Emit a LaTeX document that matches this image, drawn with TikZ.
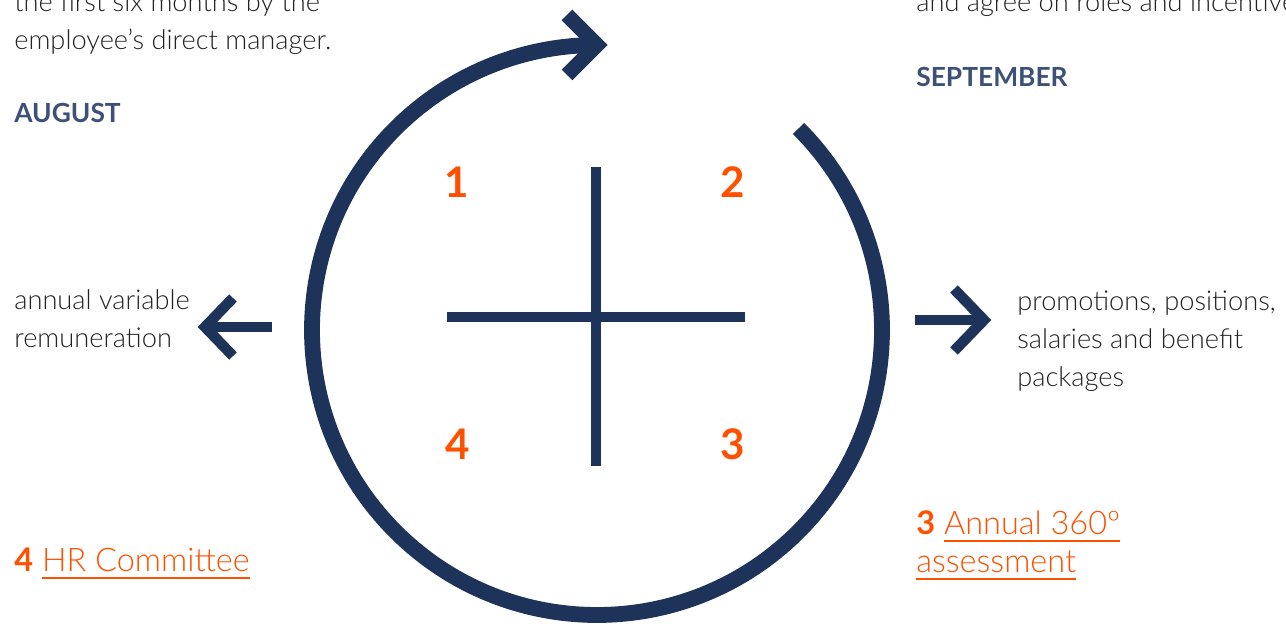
\documentclass[tikz,border=0pt]{standalone}
\usepackage{fontspec}
\setmainfont{Lato}[UprightFont=* Light, BoldFont=* Bold]
\usepackage{tikz}
\usetikzlibrary{positioning}

\definecolor{navy}{HTML}{1E3359}
\definecolor{flame}{HTML}{FF5000}
\definecolor{slate}{HTML}{3D5078}
\definecolor{ink}{HTML}{222222}

\newsavebox\ulbox
\newcommand\ulined[1]{\sbox\ulbox{#1}\rlap{\rule[-4pt]{\wd\ulbox}{1pt}}\usebox\ulbox}

\tikzset{
  body/.style={font=\fontsize{15.5}{21.7}\selectfont, text=ink, align=left,
    anchor=base west, inner sep=0pt},
  month/.style={font=\fontsize{15}{17}\selectfont\bfseries, text=slate,
    anchor=base west, inner sep=0pt},
  quad/.style={font=\fontsize{24}{28}\selectfont\bfseries, text=flame,
    anchor=base, inner sep=0pt},
  linkbox/.style={font=\fontsize{18.5}{21.7}\selectfont, text=flame, align=left,
    anchor=base west, inner sep=0pt},
  ring/.style={draw=navy, line width=9pt},
  bar/.style={draw=navy, line width=5.7pt},
  pointer/.style={draw=navy, line width=6pt, miter limit=10},
}

\begin{document}
\begin{tikzpicture}[x=0.02cm, y=-0.02cm]
  \useasboundingbox (0,0) rectangle (1286,624);

  % cycle ring with its head
  \coordinate (c) at (597,330);
  \draw[ring] (c) ++(-45:285) arc[start angle=-45, end angle=270, radius=285]
    coordinate (top);
  \draw[pointer, line width=8.5pt] (top) ++(-30,-30) -- (top) -- ++(-30,30);

  % quadrant cross
  \coordinate (xw) at (447,317);
  \coordinate (xe) at (745,317);
  \coordinate (xn) at (596,167);
  \coordinate (xs) at (596,466);
  \draw[bar] (xw) -- (xe);
  \draw[bar] (xn) -- (xs);

  \node[quad] (q1) at (457,198) {1};
  \node[quad] (q2) at (733,198) {2};
  \node[quad] (q3) at (733,460) {3};
  \node[quad] (q4) at (458,460) {4};

  % left side (base = last line)
  \node[body] (prev) at (14,50) {the first six months by the\\employee’s direct manager.};
  \node[month] (aug) at (14,123) {AUGUST};
  \node[body] (bonus) at (14,348) {annual variable\\remuneration};
  \node[linkbox] (hr) at (14,572) {\textbf{4} \ulined{HR Committee}};

  % right side
  \node[body] (roles) at (916,12) {and agree on roles and incentives.};
  \node[month] (sep) at (916,87) {SEPTEMBER};
  \node[body] (promo) at (1017,387) {promotions, positions,\\salaries and benefit\\packages};
  \node[linkbox] (eval) at (916,573) {\textbf{3} \ulined{Annual 360º}\\\ulined{assessment}};

  % pointers
  \coordinate (ls) at (272,327);
  \coordinate (lt) at (205,327);
  \draw[pointer] (ls) -- (lt);
  \draw[pointer] (lt) ++(28,-29) -- (lt) -- ++(28,29);
  \coordinate (rs) at (915,320);
  \coordinate (rt) at (984,320);
  \draw[pointer] (rs) -- (rt);
  \draw[pointer] (rt) ++(-30,-31) -- (rt) -- ++(-30,31);
\end{tikzpicture}
\end{document}
